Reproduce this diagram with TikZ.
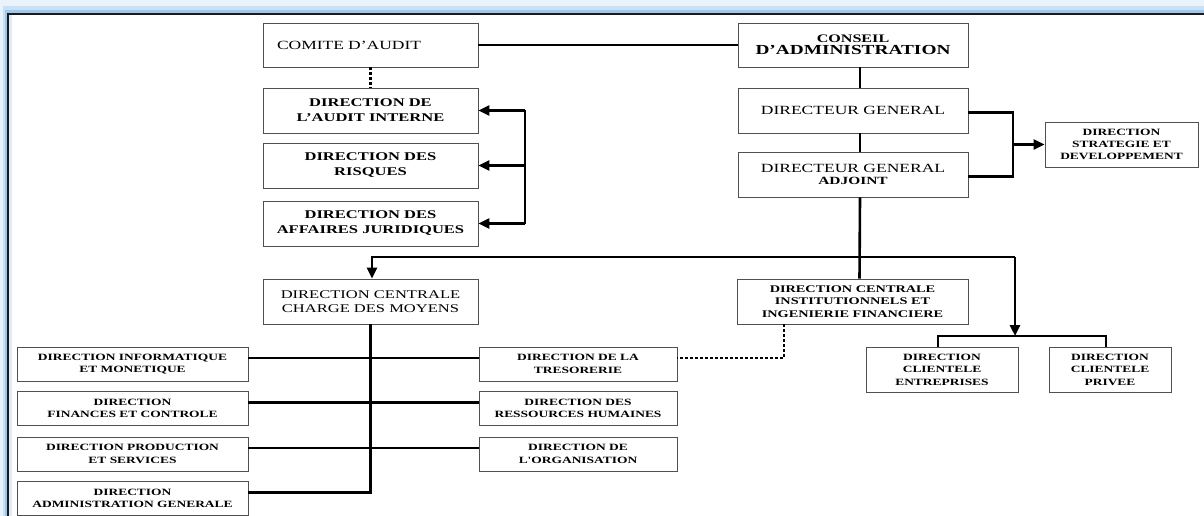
\documentclass[tikz,border=0pt]{standalone}
\usepackage{fontspec}
\newfontfamily\mf{Liberation Serif}[FakeStretch=1.4]
\usetikzlibrary{arrows.meta}
\definecolor{glowA}{HTML}{EAF3FC}
\definecolor{glowB}{HTML}{C9E0F6}
\definecolor{glowC}{HTML}{9FC8EE}
\definecolor{framec}{HTML}{1A1A1A}
\definecolor{boxc}{HTML}{505050}
\begin{document}
\begin{tikzpicture}[x=1pt,y=-1pt,
  box/.style={draw=boxc, line width=0.9pt, fill=white, inner sep=0pt, align=center},
  bigr/.style={font=\mf\fontsize{12.5}{15}\selectfont},
  bigb/.style={font=\mf\bfseries\fontsize{11.8}{15}\selectfont},
  midb/.style={font=\mf\bfseries\fontsize{10.2}{12.7}\selectfont},
  smallb/.style={font=\mf\bfseries\fontsize{9.6}{12.5}\selectfont},
  conn/.style={line width=2.6pt, draw=black},
  arrowtip/.style={-{Triangle[length=11pt,width=10pt]}},
  dotline/.style={line width=2.4pt, draw=black, dash pattern=on 2.4pt off 2.6pt}]
\useasboundingbox (0,0) rectangle (1204,516);
% frame with glow
\fill[glowA] (0,0) rectangle (1204,516);
\fill[glowB] (3,6) rectangle (1204,516);
\fill[glowC] (5,10) rectangle (1204,516);
\fill[white] (9,15) rectangle (1204,516);
\fill[glowB!60!white] (9,15) rectangle (12,516);
\draw[line width=1.6pt, framec] (8,530) -- (8,14) -- (1210,14);

% top left column
\node[box, minimum width=215, minimum height=44, text width=187, inner xsep=14, align=left, bigr] (comite) at (370.5,45) {COMITE D’AUDIT};
\node[box, minimum width=215, minimum height=45, bigb] (audit) at (370.5,110.5) {DIRECTION DE\\L’AUDIT INTERNE};
\node[box, minimum width=215, minimum height=45, bigb] (risques) at (370.5,165.5) {DIRECTION DES\\RISQUES};
\node[box, minimum width=215, minimum height=45, bigb] (jurid) at (370.5,223.5) {DIRECTION DES\\AFFAIRES JURIDIQUES};

% top right column
\node[box, minimum width=230, minimum height=44, font=\mf\bfseries] (conseil) at (853,45)
  {{\fontsize{11.5}{14}\selectfont CONSEIL}\\{\fontsize{13.8}{15}\selectfont D’ADMINISTRATION}};
\node[box, minimum width=230, minimum height=45, bigr] (dg) at (853,110.5) {DIRECTEUR GENERAL};
\node[box, minimum width=230, minimum height=45, font=\mf] (dga) at (853,174.5)
  {{\fontsize{12.5}{15}\selectfont DIRECTEUR GENERAL}\\{\bfseries\fontsize{11}{13}\selectfont ADJOINT}};
\node[box, minimum width=153, minimum height=45, font=\mf\bfseries\fontsize{9.6}{12}\selectfont] (strat) at (1121.5,144.5) {DIRECTION\\STRATEGIE ET\\DEVELOPPEMENT};

% central directions
\node[box, minimum width=215, minimum height=45, font=\mf\fontsize{11.8}{13.5}\selectfont] (charge) at (370.5,301.5) {DIRECTION CENTRALE\\CHARGE DES MOYENS};
\node[box, minimum width=231, minimum height=45, midb] (instit) at (852.5,301.5) {DIRECTION CENTRALE\\INSTITUTIONNELS ET\\INGENIERIE FINANCIERE};

% lower left column
\node[box, minimum width=231, minimum height=34, smallb] (info) at (132.5,364) {DIRECTION INFORMATIQUE\\ET MONETIQUE};
\node[box, minimum width=231, minimum height=34, smallb] (fin) at (132.5,408.5) {DIRECTION\\FINANCES ET CONTROLE};
\node[box, minimum width=231, minimum height=34, smallb] (prod) at (132.5,454) {DIRECTION PRODUCTION\\ET SERVICES};
\node[box, minimum width=231, minimum height=34, smallb] (admin) at (132.5,498.5) {DIRECTION\\ADMINISTRATION GENERALE};

% lower middle column
\node[box, minimum width=198, minimum height=34, smallb] (treso) at (578,364) {DIRECTION DE LA\\TRESORERIE};
\node[box, minimum width=198, minimum height=34, smallb] (rh) at (578,408.5) {DIRECTION DES\\RESSOURCES HUMAINES};
\node[box, minimum width=198, minimum height=34, smallb] (orga) at (578,454) {DIRECTION DE\\L'ORGANISATION};

% clientele
\node[box, minimum width=152, minimum height=45, smallb] (ent) at (942,369.5) {DIRECTION\\CLIENTELE\\ENTREPRISES};
\node[box, minimum width=122, minimum height=45, smallb] (priv) at (1110,369.5) {DIRECTION\\CLIENTELE\\PRIVEE};

% helper coordinates
\coordinate (dgr) at ([yshift=-2pt]dg.east);
\coordinate (dgar) at ([yshift=-2pt]dga.east);
\coordinate (trr) at ([yshift=6pt]treso.east);
\coordinate (adr) at ([yshift=6pt]admin.east);
\coordinate (entn) at ([xshift=-4pt]ent.north);
\coordinate (privn) at ([xshift=-4pt]priv.north);

% connectors top
\draw[conn] (comite.east) -- (conseil.west);
\draw[dotline] (comite.south) -- (audit.north);
\draw[conn] ([xshift=7pt]conseil.south) -- ([xshift=7pt]dg.north);
\draw[conn] ([xshift=7pt]dg.south) -- ([xshift=7pt]dga.north);

% left bracket
\coordinate (lbx) at (525,0);
\draw[conn] (lbx |- audit.east) -- (lbx |- jurid.east);
\draw[conn, arrowtip] (lbx |- audit.east) -- (audit.east);
\draw[conn, arrowtip] (lbx |- risques.east) -- (risques.east);
\draw[conn, arrowtip] (lbx |- jurid.east) -- (jurid.east);

% right bracket
\coordinate (rbx) at (1013,0);
\draw[conn] (dgr) -| (rbx |- dgar) -- (dgar);
\draw[conn, arrowtip] (rbx |- strat.west) -- (strat.west);

% distribution line
\coordinate (jl) at (372,257);
\coordinate (jr) at (1015,257);
\coordinate (cly) at (0,336);
\draw[conn] ([xshift=7pt]dga.south) -- ([xshift=7pt]instit.north);
\draw[conn, arrowtip] (jr) -- (jl) -- (jl |- charge.north);
\draw[conn, arrowtip] (jr) -- (jr |- cly);
\draw[conn] (entn) -- (entn |- cly) -- (privn |- cly) -- (privn);

% dotted instit -> tresorerie
\coordinate (dx) at (784,0);
\draw[dotline] (dx |- instit.south) -- (dx |- trr) -- (trr);

% lower connectors
\draw[conn] (charge.south) |- (adr);
\draw[conn] ([yshift=6pt]info.east) -- ([yshift=6pt]treso.west);
\draw[conn] ([yshift=6pt]fin.east) -- ([yshift=6pt]rh.west);
\draw[conn] ([yshift=6pt]prod.east) -- ([yshift=6pt]orga.west);
\end{tikzpicture}
\end{document}
